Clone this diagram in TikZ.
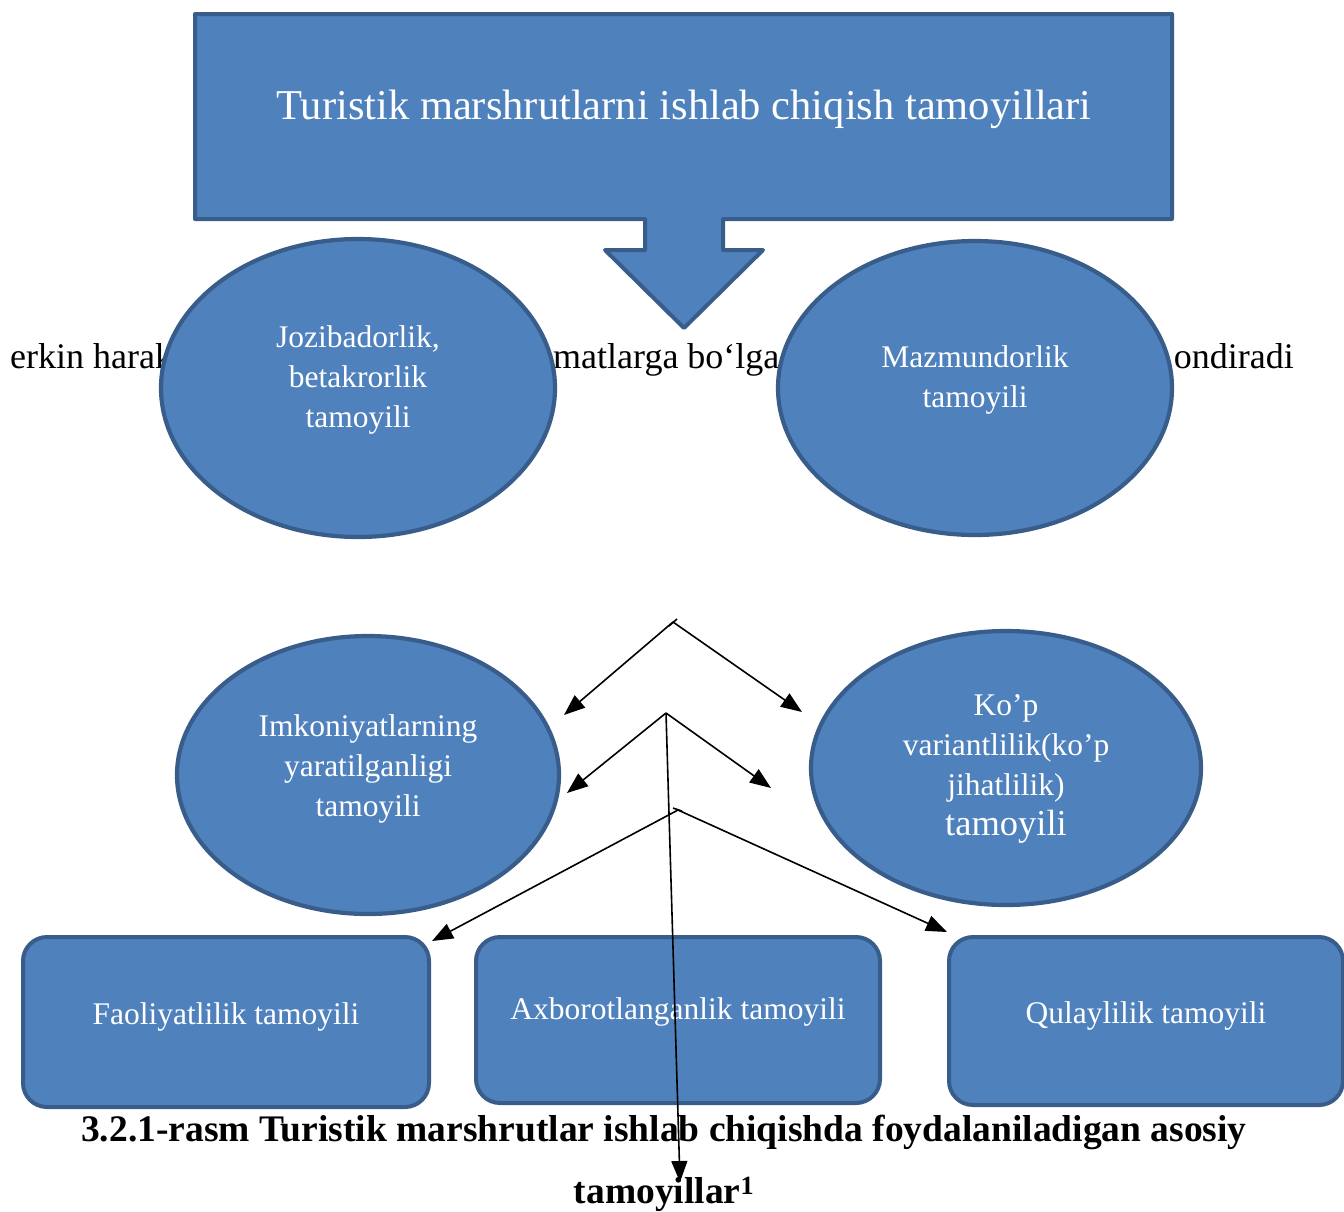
\documentclass[tikz,border=0pt]{standalone}
\usepackage{fontspec}
\setmainfont{Liberation Serif}
\usetikzlibrary{positioning,calc,shapes.geometric,arrows.meta}
\definecolor{FillBlue}{HTML}{4F81BD}
\definecolor{EdgeBlue}{HTML}{385D8A}

\begin{document}
\begin{tikzpicture}[x=1pt,y=-1pt,
		oval/.style={ellipse, draw=EdgeBlue, fill=FillBlue, line width=4.2pt},
		card/.style={rectangle, rounded corners=24pt, draw=EdgeBlue, fill=FillBlue, line width=4pt},
		intext/.style={text=white, align=center, font=\fontsize{31.5}{40}\selectfont},
		behind/.style={inner sep=0pt, font=\fontsize{36}{40}\selectfont},
		link/.style={line width=1.6pt, -{Triangle[length=21pt,width=16pt]}},
		]
		\useasboundingbox (0,0) rectangle (1344,1211);
		
		% ===== text lying under the ovals =====
		\node[behind, anchor=base west] (bgL) at (10,368) {erkin harak};
		\node[behind, anchor=base west] (bgM) at (553,368) {matlarga bo‘lga};
		\node[behind, anchor=base east] (bgR) at (1294,368) {ondiradi};
		
		% ===== heading callout =====
		\draw[draw=EdgeBlue, fill=FillBlue, line width=4pt, line join=round]
		(195,14) -- (1172,14) -- (1172,219) -- (723,219) -- (723,250) -- (763,250)
		-- (684,328) -- (605,250) -- (645,250) -- (645,219) -- (195,219) -- cycle;
		\node[text=white, font=\fontsize{42.5}{48}\selectfont] (head) at (684,109) {Turistik marshrutlarni ishlab chiqish tamoyillari};
		
		% ===== ovals =====
		\node[oval, minimum width=394pt, minimum height=298pt] (joz) at (358,388) {};
		\node[oval, minimum width=394pt, minimum height=294pt] (maz) at (975,388) {};
		\node[oval, minimum width=382pt, minimum height=278pt] (imk) at (368,775) {};
		\node[oval, minimum width=390pt, minimum height=274pt] (kop) at (1006,768) {};
		
		\node[intext] (jozT) at ($(joz.center)+(0,-8)$) {Jozibadorlik,\\betakrorlik\\tamoyili};
		\node[intext] (mazT) at ($(maz.center)+(0,-8)$) {Mazmundorlik\\tamoyili};
		\node[intext] (imkT) at ($(imk.center)+(0,-6)$) {Imkoniyatlarning\\yaratilganligi\\tamoyili};
		\node[intext] (kopT) at ($(kop.center)+(0,1)$) {Ko’p\\variantlilik(ko’p\\jihatlilik)\\{\fontsize{36.5}{44}\selectfont tamoyili}};
		
		% ===== bottom cards =====
		\node[card, minimum width=406pt, minimum height=170pt] (fao) at (226,1022) {};
		\node[card, minimum width=404pt, minimum height=166pt] (axb) at (678,1020) {};
		\node[card, minimum width=394pt, minimum height=168pt] (qul) at (1146,1021) {};
		
		\node[intext] (faoT) at ($(fao.center)+(0,-5)$) {Faoliyatlilik tamoyili};
		\node[intext] (axbT) at ($(axb.center)+(0,-8)$) {Axborotlanganlik tamoyili};
		\node[intext] (qulT) at ($(qul.center)+(0,-5)$) {Qulaylilik tamoyili};
		
		% ===== caption =====
		\node[align=center, font=\bfseries\fontsize{37.5}{62}\selectfont] (cap) at (664,1163)
		{3.2.1-rasm Turistik marshrutlar ishlab chiqishda foydalaniladigan asosiy\\tamoyillar\textsuperscript{1}};
		
		% ===== arrows =====
		\coordinate (forkA) at (673,622);
		\coordinate (forkB) at (666,713);
		\coordinate (forkC) at (678,810);
		\coordinate (tipA1) at (564,715);
		\coordinate (tipA2) at (802,712);
		\coordinate (tipB1) at (567,793);
		\coordinate (tipB2) at (771,788);
		\coordinate (tipB3) at (680,1182);
		\coordinate (tipC1) at (432,941);
		\coordinate (tipC2) at (947,932);
		
		\draw[line width=1.6pt] ($(forkA)+(-4,4)$) -- ($(forkA)+(4,-3)$);
		\draw[link] (forkA) -- (tipA1);
		\draw[link] (forkA) -- (tipA2);
		\draw[link] (forkB) -- (tipB1);
		\draw[link] (forkB) -- (tipB2);
		\draw[link] (forkB) -- (tipB3);
		\draw[line width=1.6pt] ($(forkC)+(-5,-2)$) -- ($(forkC)+(4,1)$);
		\draw[link] (forkC) -- (tipC1);
		\draw[link] (forkC) -- (tipC2);
		
	\end{tikzpicture}
\end{document}
